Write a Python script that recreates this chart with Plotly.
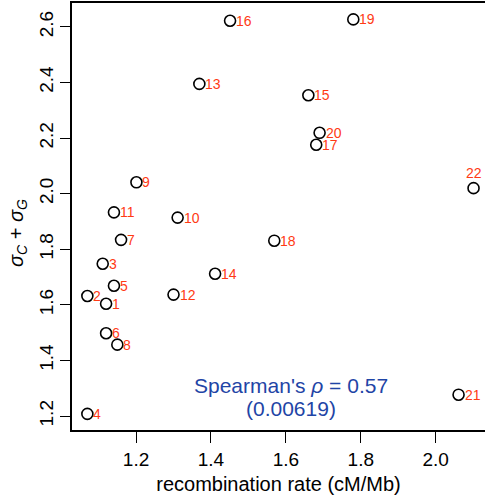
import plotly.graph_objects as go

chrom = ["1","2","3","4","5","6","7","8","9","10","11","12","13","14","15","16","17","18","19","20","21","22"]
recomb_rate = [1.120, 1.070, 1.111, 1.070, 1.141, 1.120, 1.160, 1.150, 1.201, 1.311, 1.141,
               1.300, 1.369, 1.411, 1.660, 1.451, 1.681, 1.569, 1.780, 1.690, 2.061, 2.101]
sigma_sum = [1.604, 1.632, 1.748, 1.208, 1.669, 1.498, 1.834, 1.457, 2.041, 1.914, 1.933,
             1.637, 2.395, 1.712, 2.354, 2.622, 2.176, 1.831, 2.627, 2.219, 1.277, 2.020]
x_ticks = [1.2, 1.4, 1.6, 1.8, 2.0]
y_ticks = [1.2, 1.4, 1.6, 1.8, 2.0, 2.2, 2.4, 2.6]

FONT = "Liberation Sans, Arial, Helvetica, sans-serif"
RED = "#ff3a14"
BLUE = "#1f45a6"

fig = go.Figure()
fig.add_trace(go.Scatter(
    x=recomb_rate, y=sigma_sum, mode="markers",
    marker=dict(symbol="circle-open", size=11, color="black", line=dict(width=1.6, color="black")),
    hoverinfo="skip", showlegend=False,
))

annotations = []
for lab, xv, yv in zip(chrom, recomb_rate, sigma_sum):
    if lab == "22":
        annotations.append(dict(x=xv, y=yv, text=lab, showarrow=False, xref="x", yref="y",
                                xanchor="center", yanchor="middle", yshift=15,
                                font=dict(family=FONT, size=14, color=RED)))
    else:
        annotations.append(dict(x=xv, y=yv, text=lab, showarrow=False, xref="x", yref="y",
                                xanchor="left", yanchor="middle", xshift=4,
                                font=dict(family=FONT, size=14, color=RED)))

# Spearman annotation
annotations.append(dict(x=(291 - 72) / (485 - 72), y=(430 - 385) / (430 - 3), xref="paper", yref="paper",
                        text="Spearman's <i>ρ</i> = 0.57", showarrow=False,
                        xanchor="center", yanchor="middle",
                        font=dict(family=FONT, size=21, color=BLUE)))
annotations.append(dict(x=(291 - 72) / (485 - 72), y=(430 - 408) / (430 - 3), xref="paper", yref="paper",
                        text="(0.00619)", showarrow=False,
                        xanchor="center", yanchor="middle",
                        font=dict(family=FONT, size=21, color=BLUE)))
# y axis title
annotations.append(dict(x=-(72 - 18) / (485 - 72), y=(430 - 233) / (430 - 3), xref="paper", yref="paper",
                        text="<i>σ<sub>C</sub></i> + <i>σ<sub>G</sub></i>", showarrow=False,
                        textangle=-90, xanchor="center", yanchor="middle",
                        font=dict(family=FONT, size=20, color="black")))

fig.update_layout(
    width=485, height=501,
    margin=dict(l=72, r=0, t=3, b=71),
    paper_bgcolor="white", plot_bgcolor="white",
    font=dict(family=FONT, color="black"),
    annotations=annotations,
    xaxis=dict(range=[1.029, 2.1316], tickvals=x_ticks, ticktext=[f"{v:.1f}" for v in x_ticks],
               showgrid=False, zeroline=False, showline=True, linecolor="black", linewidth=1.5,
               mirror=True, ticks="outside", ticklen=11, tickwidth=1.3, tickcolor="black",
               tickfont=dict(family=FONT, size=19),
               title=dict(text="recombination rate (cM/Mb)", font=dict(family=FONT, size=20), standoff=8)),
    yaxis=dict(range=[1.15, 2.686], tickvals=y_ticks, ticktext=[f"{v:.1f}" for v in y_ticks],
               showgrid=False, zeroline=False, showline=True, linecolor="black", linewidth=1.5,
               mirror=False, ticks="outside", ticklen=10, tickwidth=1.3, tickcolor="black",
               tickangle=-90, tickfont=dict(family=FONT, size=19)),
)

fig.write_html("out.html")
